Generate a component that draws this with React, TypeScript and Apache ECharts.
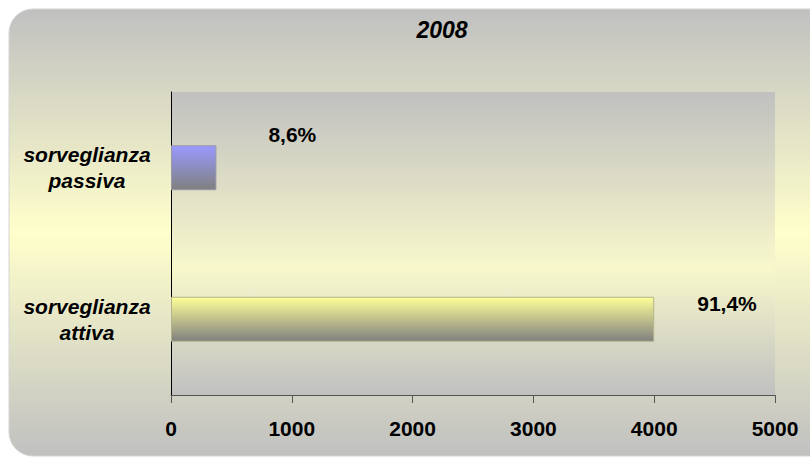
import React, { useEffect, useRef } from "react";
import * as echarts from "echarts";

// Categories, bottom to top as ECharts lays out a category y-axis
const categories = ["sorveglianza\nattiva", "sorveglianza\npassiva"];
const counts = [4000, 376];
const xTicks = [0, 1000, 2000, 3000, 4000, 5000];
const title = "2008";

const FONT = "'Liberation Sans', Arial, Helvetica, sans-serif";

function pct(v: number, total: number): string {
  return ((v / total) * 100).toFixed(1).replace(".", ",") + "%";
}

export default function App() {
  const ref = useRef<HTMLDivElement | null>(null);

  useEffect(() => {
    if (!ref.current) return;
    const chart = echarts.init(ref.current, null, { renderer: "svg" });
    const total = counts.reduce((a, b) => a + b, 0);

    const grad = (stops: [number, string][]) =>
      new echarts.graphic.LinearGradient(
        0,
        0,
        0,
        1,
        stops.map(([offset, color]) => ({ offset, color }))
      );

    const barStyles = [
      {
        top: "#ffff99",
        border: "#b4b48c",
        offset: [43, -15.5],
      },
      {
        top: "#9999ff",
        border: "#9a9aa8",
        offset: [52, -33],
      },
    ];

    chart.setOption({
      animation: false,
      backgroundColor: "#ffffff",
      graphic: [
        {
          type: "rect",
          z: -10,
          shape: { x: 9, y: 9, width: 830, height: 447, r: 24 },
          style: {
            fill: grad([
              [0, "#c0c0c0"],
              [0.5, "#ffffcc"],
              [1, "#c0c0c0"],
            ]),
            stroke: "#d4d4d4",
            lineWidth: 1,
          },
        },
        {
          type: "text",
          x: 442,
          y: 30,
          style: {
            text: title,
            fontFamily: FONT,
            fontSize: 23,
            fontWeight: "bold",
            fontStyle: "italic",
            fill: "#000",
            textAlign: "center",
            textVerticalAlign: "middle",
          },
        },
      ],
      grid: {
        left: 171,
        right: 35,
        top: 92,
        bottom: 69,
        show: true,
        borderWidth: 0,
        backgroundColor: grad([
          [0, "#c0c0c0"],
          [0.58, "#f8f8cc"],
          [1, "#c0c0c0"],
        ]),
      },
      xAxis: {
        type: "value",
        min: xTicks[0],
        max: xTicks[xTicks.length - 1],
        interval: xTicks[1] - xTicks[0],
        splitLine: { show: false },
        axisLine: { show: true, lineStyle: { color: "#555555", width: 1 } },
        axisTick: { show: true, length: 8, lineStyle: { color: "#555555" } },
        axisLabel: {
          margin: 23,
          color: "#000",
          fontFamily: FONT,
          fontSize: 21,
          fontWeight: "bold",
          formatter: (v: number) => String(v),
        },
      },
      yAxis: {
        type: "category",
        data: categories,
        axisLine: { show: true, lineStyle: { color: "#000", width: 1 } },
        axisTick: { show: false },
        axisLabel: {
          margin: 84,
          align: "center",
          color: "#000",
          fontFamily: FONT,
          fontSize: 21,
          lineHeight: 26,
          fontWeight: "bold",
          fontStyle: "italic",
        },
      },
      series: [
        {
          type: "bar",
          barWidth: 45,
          data: counts.map((v, i) => ({
            value: v,
            itemStyle: {
              color: grad([
                [0, barStyles[i].top],
                [1, "#808080"],
              ]),
              borderColor: barStyles[i].border,
              borderWidth: 1,
            },
            label: {
              show: true,
              position: "right",
              distance: 0,
              offset: barStyles[i].offset,
              formatter: () => pct(v, total),
              color: "#000",
              fontFamily: FONT,
              fontSize: 21,
              fontWeight: "bold",
            },
          })),
        },
      ],
    });

    return () => chart.dispose();
  }, []);

  return (
    <div
      ref={ref}
      style={{ position: "fixed", left: 0, top: 0, width: 810, height: 464 }}
    />
  );
}
